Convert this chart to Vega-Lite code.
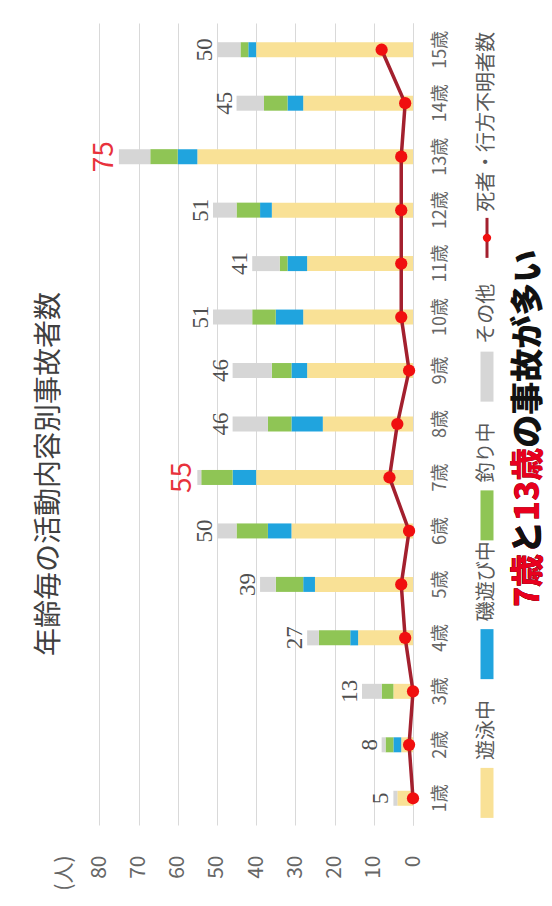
{
  "$schema": "https://vega.github.io/schema/vega-lite/v6.json",
  "background": "white",
  "padding": {"left": 35, "top": 23, "right": 0, "bottom": 0},
  "config": {"view": {"stroke": null}, "font": "Noto Sans CJK JP", "axis": {"labelOverlap": false}},
  "datasets": {
    "ages": [
      {"a": 1, "遊泳中": 4, "磯遊び中": 0, "釣り中": 0, "その他": 1, "deaths": 0},
      {"a": 2, "遊泳中": 3, "磯遊び中": 2, "釣り中": 2, "その他": 1, "deaths": 1},
      {"a": 3, "遊泳中": 5, "磯遊び中": 0, "釣り中": 3, "その他": 5, "deaths": 0},
      {"a": 4, "遊泳中": 14, "磯遊び中": 2, "釣り中": 8, "その他": 3, "deaths": 2},
      {"a": 5, "遊泳中": 25, "磯遊び中": 3, "釣り中": 7, "その他": 4, "deaths": 3},
      {"a": 6, "遊泳中": 31, "磯遊び中": 6, "釣り中": 8, "その他": 5, "deaths": 1},
      {"a": 7, "遊泳中": 40, "磯遊び中": 6, "釣り中": 8, "その他": 1, "deaths": 6},
      {"a": 8, "遊泳中": 23, "磯遊び中": 8, "釣り中": 6, "その他": 9, "deaths": 4},
      {"a": 9, "遊泳中": 27, "磯遊び中": 4, "釣り中": 5, "その他": 10, "deaths": 1},
      {"a": 10, "遊泳中": 28, "磯遊び中": 7, "釣り中": 6, "その他": 10, "deaths": 3},
      {"a": 11, "遊泳中": 27, "磯遊び中": 5, "釣り中": 2, "その他": 7, "deaths": 3},
      {"a": 12, "遊泳中": 36, "磯遊び中": 3, "釣り中": 6, "その他": 6, "deaths": 3},
      {"a": 13, "遊泳中": 55, "磯遊び中": 5, "釣り中": 7, "その他": 8, "deaths": 3},
      {"a": 14, "遊泳中": 28, "磯遊び中": 4, "釣り中": 6, "その他": 7, "deaths": 2},
      {"a": 15, "遊泳中": 40, "磯遊び中": 2, "釣り中": 2, "その他": 6, "deaths": 8}
    ],
    "legend": [
      {"s": "死者・行方不明者数"},
      {"s": "その他"},
      {"s": "釣り中"},
      {"s": "磯遊び中"},
      {"s": "遊泳中"}
    ],
    "sub": [
      {"k": "a", "t": "7歳と13歳の事故が多い"},
      {"k": "b", "t": "7歳と13歳"},
      {"k": "c", "t": "7歳と"},
      {"k": "d", "t": "7歳"}
    ]
  },
  "bounds": "flush",
  "spacing": 62,
  "resolve": {"scale": {"x": "independent", "y": "independent", "color": "independent"}},
  "hconcat": [
    {
      "width": 349,
      "height": 802,
      "title": {"text": "年齢毎の活動内容別事故者数", "orient": "left", "anchor": "middle", "frame": "group", "offset": 0, "dx": -50, "dy": 11, "font": "Noto Sans CJK JP", "fontSize": 28, "fontWeight": "normal", "color": "#404040"},
      "data": {"name": "ages"},
      "encoding": {
        "y": {
          "field": "a", "type": "ordinal", "sort": "descending",
          "scale": {"paddingInner": 0, "paddingOuter": 0},
          "axis": {"orient": "right", "title": null, "labelExpr": "datum.label + '歳'", "labelAngle": 270, "labelAlign": "center", "labelBaseline": "middle", "labelPadding": 27, "ticks": false, "domain": true, "domainColor": "#D9D9D9", "domainWidth": 1, "grid": false, "labelFont": "Noto Sans CJK JP", "labelFontSize": 18, "labelColor": "#666666"}
        }
      },
      "layer": [
        {
          "transform": [
            {"fold": ["遊泳中", "磯遊び中", "釣り中", "その他"], "as": ["cat", "n"]},
            {"window": [{"op": "row_number", "as": "k"}], "groupby": ["a"]}
          ],
          "mark": {"type": "bar", "size": 15},
          "encoding": {
            "x": {
              "field": "n", "type": "quantitative", "stack": "zero",
              "scale": {"domain": [0, 89], "reverse": true, "nice": false},
              "axis": {"title": null, "values": [0, 10, 20, 30, 40, 50, 60, 70, 80, 89], "labelExpr": "datum.value > 85 ? '(人)' : datum.label", "labelAngle": 270, "labelAlign": "right", "labelBaseline": "middle", "labelPadding": 30, "labelFlush": false, "labelOverlap": false, "ticks": false, "domain": false, "grid": true, "gridColor": {"condition": {"test": "datum.value > 85", "value": "transparent"}, "value": "#D9D9D9"}, "gridWidth": 1, "labelFont": "Noto Sans CJK JP", "labelFontSize": 21, "labelColor": "#666666"}
            },
            "order": {"field": "k", "type": "quantitative"},
            "color": {
              "field": "cat", "type": "nominal",
              "scale": {"domain": ["遊泳中", "磯遊び中", "釣り中", "その他"], "range": ["#F9E196", "#20A4DE", "#8FC555", "#D6D6D6"]},
              "legend": null
            }
          }
        },
        {
          "transform": [
            {"fold": ["遊泳中", "磯遊び中", "釣り中", "その他"], "as": ["cat", "n"]},
            {"aggregate": [{"op": "sum", "field": "n", "as": "total"}], "groupby": ["a"]},
            {"filter": {"not": {"field": "a", "oneOf": [7, 13]}}}
          ],
          "mark": {"type": "text", "angle": 270, "align": "center", "baseline": "bottom", "font": "Liberation Serif", "fontSize": 23, "color": "#505050"},
          "encoding": {
            "x": {"field": "total", "type": "quantitative", "axis": {"title": null, "values": [0, 10, 20, 30, 40, 50, 60, 70, 80, 89], "labelExpr": "datum.value > 85 ? '(人)' : datum.label", "labelAngle": 270, "labelAlign": "right", "labelBaseline": "middle", "labelPadding": 30, "labelFlush": false, "labelOverlap": false, "ticks": false, "domain": false, "grid": true, "gridColor": {"condition": {"test": "datum.value > 85", "value": "transparent"}, "value": "#D9D9D9"}, "gridWidth": 1, "labelFont": "Noto Sans CJK JP", "labelFontSize": 21, "labelColor": "#666666"}},
            "text": {"field": "total", "type": "quantitative"}
          }
        },
        {
          "transform": [
            {"fold": ["遊泳中", "磯遊び中", "釣り中", "その他"], "as": ["cat", "n"]},
            {"aggregate": [{"op": "sum", "field": "n", "as": "total"}], "groupby": ["a"]},
            {"filter": {"field": "a", "oneOf": [7, 13]}}
          ],
          "mark": {"type": "text", "angle": 270, "align": "center", "baseline": "bottom", "font": "Noto Sans CJK JP", "fontSize": 28, "color": "#E8323C"},
          "encoding": {
            "x": {"field": "total", "type": "quantitative", "axis": {"title": null, "values": [0, 10, 20, 30, 40, 50, 60, 70, 80, 89], "labelExpr": "datum.value > 85 ? '(人)' : datum.label", "labelAngle": 270, "labelAlign": "right", "labelBaseline": "middle", "labelPadding": 30, "labelFlush": false, "labelOverlap": false, "ticks": false, "domain": false, "grid": true, "gridColor": {"condition": {"test": "datum.value > 85", "value": "transparent"}, "value": "#D9D9D9"}, "gridWidth": 1, "labelFont": "Noto Sans CJK JP", "labelFontSize": 21, "labelColor": "#666666"}},
            "text": {"field": "total", "type": "quantitative"}
          }
        },
        {
          "mark": {"type": "line", "color": "#A3202E", "strokeWidth": 3.5, "point": {"filled": true, "color": "#F00F0F", "size": 150, "opacity": 1}},
          "encoding": {
            "x": {"field": "deaths", "type": "quantitative", "axis": {"title": null, "values": [0, 10, 20, 30, 40, 50, 60, 70, 80, 89], "labelExpr": "datum.value > 85 ? '(人)' : datum.label", "labelAngle": 270, "labelAlign": "right", "labelBaseline": "middle", "labelPadding": 30, "labelFlush": false, "labelOverlap": false, "ticks": false, "domain": false, "grid": true, "gridColor": {"condition": {"test": "datum.value > 85", "value": "transparent"}, "value": "#D9D9D9"}, "gridWidth": 1, "labelFont": "Noto Sans CJK JP", "labelFontSize": 21, "labelColor": "#666666"}},
            "order": {"field": "a", "type": "quantitative"}
          }
        }
      ]
    },
    {
      "bounds": "flush",
      "spacing": 8,
      "hconcat": [
        {
          "width": 24,
          "height": 802,
          "data": {"name": "legend"},
          "encoding": {
            "y": {"field": "s", "type": "nominal", "scale": {"type": "point", "domain": ["死者・行方不明者数", "その他", "釣り中", "磯遊び中", "遊泳中"], "padding": 0.89, "align": 0.87}, "axis": null}
          },
          "layer": [
            {
              "transform": [{"filter": {"not": {"field": "s", "equal": "死者・行方不明者数"}}}],
              "mark": {"type": "tick", "orient": "vertical", "thickness": 13, "size": 50, "opacity": 1},
              "encoding": {
                "color": {"field": "s", "type": "nominal", "scale": {"domain": ["遊泳中", "磯遊び中", "釣り中", "その他"], "range": ["#F9E196", "#20A4DE", "#8FC555", "#D6D6D6"]}, "legend": null}
              }
            },
            {
              "transform": [{"filter": {"field": "s", "equal": "死者・行方不明者数"}}],
              "mark": {"type": "tick", "orient": "vertical", "thickness": 3, "size": 40, "color": "#A3202E", "opacity": 1}
            },
            {
              "transform": [{"filter": {"field": "s", "equal": "死者・行方不明者数"}}],
              "mark": {"type": "point", "shape": "circle", "filled": true, "size": 70, "color": "#F00F0F", "opacity": 1}
            },
            {
              "transform": [{"filter": {"not": {"field": "s", "equal": "死者・行方不明者数"}}}],
              "mark": {"type": "text", "angle": 270, "align": "left", "baseline": "middle", "dx": 33, "font": "Noto Sans CJK JP", "fontSize": 20, "color": "#595959"},
              "encoding": {"text": {"field": "s", "type": "nominal"}}
            },
            {
              "transform": [{"filter": {"field": "s", "equal": "死者・行方不明者数"}}],
              "mark": {"type": "text", "angle": 270, "align": "left", "baseline": "middle", "dx": 26, "font": "Noto Sans CJK JP", "fontSize": 20, "color": "#595959"},
              "encoding": {"text": {"field": "s", "type": "nominal"}}
            }
          ]
        },
        {
          "width": 44,
          "height": 802,
          "data": {"name": "sub"},
          "layer": [
            {
              "transform": [{"filter": {"field": "k", "equal": "a"}}],
              "mark": {"type": "text", "angle": 270, "align": "left", "baseline": "middle", "dx": -183, "font": "Noto Sans CJK JP", "fontSize": 33, "fontWeight": 900, "color": "#111111"},
              "encoding": {"text": {"field": "t", "type": "nominal"}}
            },
            {
              "transform": [{"filter": {"field": "k", "equal": "b"}}],
              "mark": {"type": "text", "angle": 270, "align": "left", "baseline": "middle", "dx": -183, "font": "Noto Sans CJK JP", "fontSize": 33, "fontWeight": 900, "color": "#E8001E"},
              "encoding": {"text": {"field": "t", "type": "nominal"}}
            },
            {
              "transform": [{"filter": {"field": "k", "equal": "c"}}],
              "mark": {"type": "text", "angle": 270, "align": "left", "baseline": "middle", "dx": -183, "font": "Noto Sans CJK JP", "fontSize": 33, "fontWeight": 900, "color": "#111111"},
              "encoding": {"text": {"field": "t", "type": "nominal"}}
            },
            {
              "transform": [{"filter": {"field": "k", "equal": "d"}}],
              "mark": {"type": "text", "angle": 270, "align": "left", "baseline": "middle", "dx": -183, "font": "Noto Sans CJK JP", "fontSize": 33, "fontWeight": 900, "color": "#E8001E"},
              "encoding": {"text": {"field": "t", "type": "nominal"}}
            }
          ]
        }
      ]
    }
  ]
}
